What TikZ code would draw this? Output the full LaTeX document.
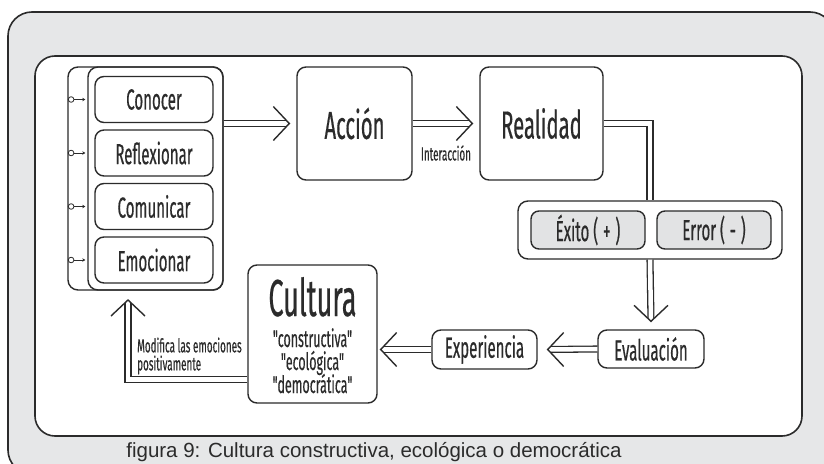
\documentclass[tikz,border=0pt]{standalone}
\usepackage{fontspec}
\setmainfont{Liberation Sans}
\newfontfamily\cond[FakeStretch=0.52,FakeBold=0.4]{Fira Sans}
\usetikzlibrary{arrows.meta,calc}
\definecolor{ink}{HTML}{2B2B2B}
\definecolor{panel}{HTML}{E6E7E8}
\definecolor{chip}{HTML}{E2E3E4}

\begin{document}
\begin{tikzpicture}[x=1pt,y=-1pt,
  frame/.style={draw=ink, line width=1.4pt, rounded corners=10pt, inner sep=0pt},
  item/.style={draw=ink, line width=1.4pt, rounded corners=9pt, inner sep=0pt,
    text=ink, font=\cond\fontsize{29}{30}\selectfont},
  bigbox/.style={item, font=\cond\fontsize{39}{40}\selectfont},
  chipbox/.style={item, fill=chip, rounded corners=8pt},
  tick/.style={draw=ink, line width=0.8pt},
  pipe/.style={draw=ink, double=white, double distance=4.5pt, line width=1.3pt, line join=miter},
  hollow/.style={pipe, shorten >=3.4pt},
  chevline/.style={draw=ink, line width=1.4pt, line join=miter},
  cultline/.style={text=ink, font=\cond\fontsize{24}{24}\selectfont, inner sep=0pt, anchor=base},
  note/.style={text=ink, font=\cond\fontsize{19}{18}\selectfont, inner sep=0pt}
]
\useasboundingbox (0,0) rectangle (824,463);

% grey panel and white sheet
\begin{scope}
  \clip (0,0) rectangle (824,463);
  \draw[draw=ink, fill=panel, line width=1.6pt, rounded corners=24pt] (8,12) rectangle (834,474);
\end{scope}
\draw[draw=ink, fill=white, line width=1.6pt, rounded corners=20pt] (35,56) rectangle (802,436);

% left group: two stacked frames with the four activities
\node[frame, minimum width=155pt, minimum height=223pt] (grp) at (145.5,178.5) {};
\node[frame, minimum width=135pt, minimum height=223pt] (grpin) at (155.5,178.5) {};
\node[item, minimum width=118pt, minimum height=46pt] (conocer) at (154,99.5) {Conocer};
\node[item, minimum width=118pt, minimum height=46pt] (reflex) at (154,153) {Reflexionar};
\node[item, minimum width=118pt, minimum height=46pt] (comun) at (154,206.5) {Comunicar};
\node[item, minimum width=118pt, minimum height=46pt] (emoc) at (154,260) {Emocionar};

\foreach \n in {conocer,reflex,comun,emoc}{
  \draw[tick] ([xshift=3.8pt]grp.west |- \n) circle[radius=2.8pt];
  \draw[tick, -{Stealth[length=3pt,width=3.5pt]}] ([xshift=6.6pt]grp.west |- \n) -- ([xshift=-2pt]grpin.west |- \n);
}

% main row
\node[bigbox, minimum width=115pt, minimum height=113pt] (acc) at (354.5,123.5) {Acción};
\node[bigbox, minimum width=123pt, minimum height=113pt] (real) at (541.5,123.5) {Realidad};

% evaluation outcome
\node[frame, minimum width=264pt, minimum height=58pt] (outcome) at (650,230) {};
\node[chipbox, minimum width=114pt, minimum height=38pt] (exito) at (588,230) {Éxito (\,+\,)};
\node[chipbox, minimum width=114pt, minimum height=38pt] (error) at (714,230) {Error (\,-\,)};

% lower row
\node[item, minimum width=106pt, minimum height=38pt] (evalu) at (651,349) {Evaluación};
\node[item, minimum width=105pt, minimum height=39pt] (exper) at (484.5,349.5) {Experiencia};
\node[item, minimum width=129pt, minimum height=138pt] (cult) at (312.5,334) {};
\node[text=ink, font=\cond\fontsize{52}{52}\selectfont, inner sep=0pt, anchor=base] (cultT) at (312.5,316) {Cultura};
\node[cultline] (cultA) at (312.5,347) {"constructiva"};
\node[cultline] (cultB) at (312.5,370) {"ecológica"};
\node[cultline] (cultC) at (312.5,393) {"democrática"};

% arrow tips
\coordinate (t1) at ([xshift=-7pt]acc.west);
\coordinate (t2) at ([xshift=-7pt]real.west);
\coordinate (t3) at ([yshift=8pt]evalu.north);
\coordinate (t4) at ([xshift=10pt]exper.east);
\coordinate (c5) at (cult.east |- exper.west);
\coordinate (t5) at ([xshift=3pt]c5);
\coordinate (t6) at (128,300);

% connectors with open chevron heads
\draw[hollow] (grp.east |- acc.west) -- (t1);
\draw[chevline] ([shift={(-16pt,17pt)}]t1) -- (t1) -- ([shift={(-16pt,-17pt)}]t1);
\draw[hollow] (acc.east) -- (t2);
\draw[chevline] ([shift={(-16pt,17pt)}]t2) -- (t2) -- ([shift={(-16pt,-17pt)}]t2);
\node[note] (inter) at (446,153) {Interacción};
\draw[pipe] (real.east) -| (outcome.north);
\draw[hollow] (outcome.south) -- (t3);
\draw[chevline] ([shift={(-17pt,16pt)}]t3) -- (t3) -- ([shift={(17pt,16pt)}]t3);
\draw[hollow] (evalu.west) -- (t4);
\draw[chevline] ([shift={(16pt,17pt)}]t4) -- (t4) -- ([shift={(16pt,-17pt)}]t4);
\draw[hollow] (exper.west) -- (t5);
\draw[chevline] ([shift={(16pt,17pt)}]t5) -- (t5) -- ([shift={(16pt,-17pt)}]t5);
\draw[hollow] ([yshift=24pt]cult.south west) -| (t6);
\draw[chevline] ([shift={(-17pt,-16pt)}]t6) -- (t6) -- ([shift={(17pt,-16pt)}]t6);
\node[note, anchor=west, align=left] (modif) at (137,356)
  {Modifica las emociones\\positivamente};

% caption
\node[text=ink, font=\fontsize{20.5}{22}\selectfont, inner sep=0pt] (cap) at (374,452.5)
  {figura 9: Cultura constructiva, ecológica o democrática};
\end{tikzpicture}
\end{document}
